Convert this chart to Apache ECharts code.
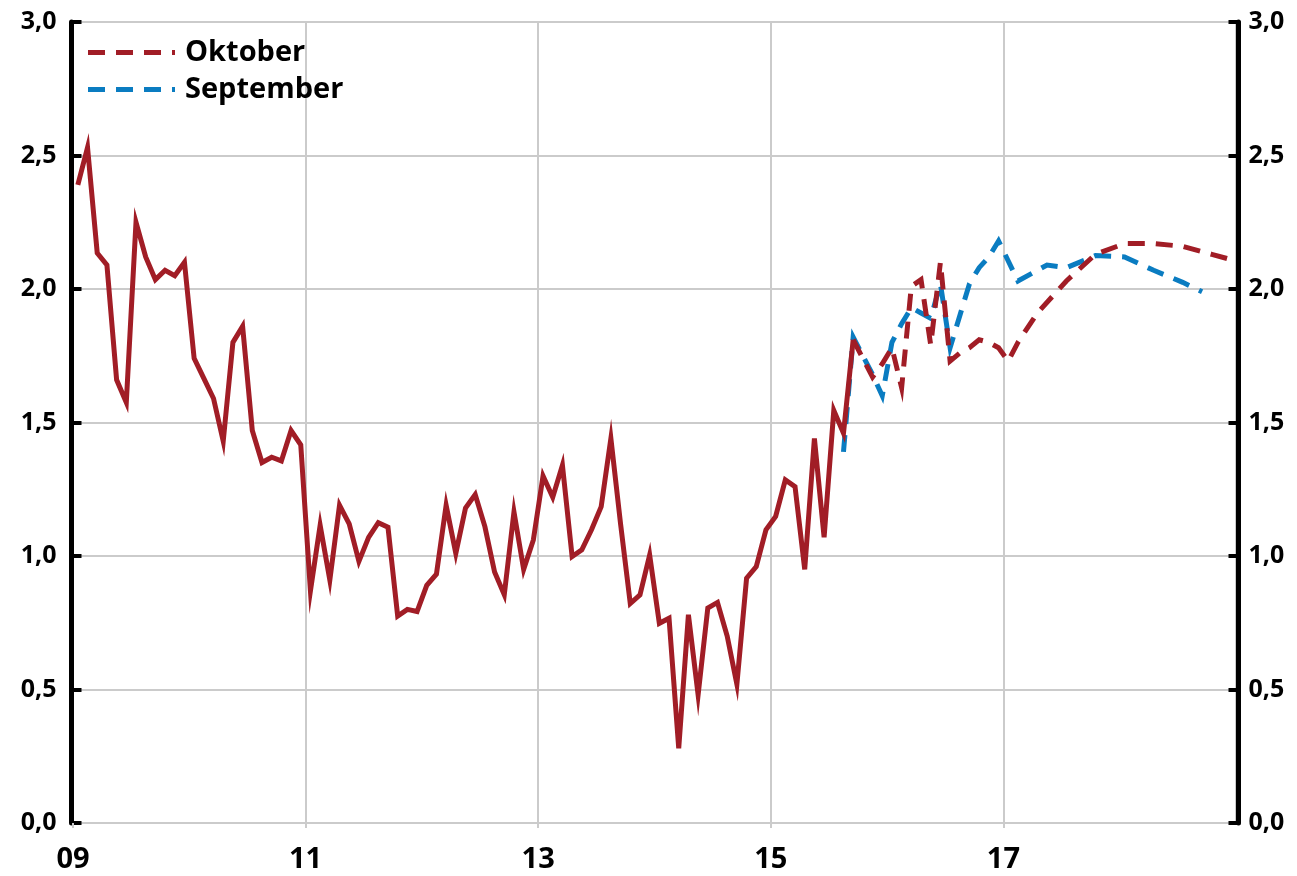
<!DOCTYPE html>
<html>
<head>
<meta charset="utf-8">
<script src="https://cdn.jsdelivr.net/npm/echarts@6/dist/echarts.min.js"></script>
<style>
  html, body { margin: 0; padding: 0; background: #fff; }
  #main { width: 1297px; height: 876px; }
</style>
</head>
<body>
<div id="main"></div>
<script>
var myChart = echarts.init(document.getElementById('main'));

// monthly history, from Jan 2009
var histValues = [
  2.39, 2.53, 2.135, 2.09, 1.66, 1.575, 2.25, 2.12, 2.035, 2.07,
  2.05, 2.10, 1.74, 1.665, 1.59, 1.43, 1.80, 1.86, 1.47, 1.35,
  1.37, 1.356, 1.47, 1.416, 0.87, 1.115, 0.91, 1.19, 1.12, 0.98,
  1.07, 1.125, 1.108, 0.775, 0.80, 0.792, 0.89, 0.932, 1.19, 1.01,
  1.18, 1.23, 1.11, 0.94, 0.855, 1.165, 0.95, 1.06, 1.30, 1.22,
  1.34, 0.998, 1.023, 1.098, 1.185, 1.44, 1.12, 0.822, 0.854, 1.004,
  0.748, 0.767, 0.28, 0.78, 0.48, 0.805, 0.826, 0.70, 0.52, 0.917,
  0.96, 1.098, 1.148, 1.285, 1.26, 0.95, 1.44, 1.07, 1.545, 1.46,
  1.81
];

// Oktober forecast
var octDates = ['2015-09', '2015-10', '2015-11', '2015-12', '2016-01', '2016-02', '2016-03', '2016-04',
  '2016-05', '2016-06', '2016-07', '2016-08', '2016-09', '2016-10', '2016-11', '2016-12',
  '2017-01', '2017-02', '2017-04', '2017-07', '2017-10', '2018-01', '2018-04', '2018-07',
  '2018-10', '2018-12'];
var octValues = [1.81, 1.74, 1.67, 1.72, 1.78, 1.63, 2.01, 2.035,
  1.79, 2.10, 1.73, 1.76, 1.78, 1.81, 1.80, 1.78,
  1.73, 1.80, 1.91, 2.03, 2.13, 2.17, 2.17, 2.16,
  2.13, 2.11];

// September forecast
var sepDates = ['2015-08', '2015-09', '2015-10', '2015-11', '2015-12', '2016-01', '2016-02', '2016-03',
  '2016-04', '2016-05', '2016-06', '2016-07', '2016-08', '2016-09', '2016-10', '2016-11',
  '2016-12', '2017-02', '2017-05', '2017-07', '2017-10', '2018-01', '2018-04', '2018-07',
  '2018-09'];
var sepValues = [1.39, 1.82, 1.75, 1.68, 1.60, 1.80, 1.87, 1.93,
  1.91, 1.89, 2.02, 1.78, 1.90, 2.02, 2.08, 2.12,
  2.18, 2.03, 2.09, 2.08, 2.125, 2.12, 2.07, 2.025,
  1.99];

var yTicks = [0, 0.5, 1, 1.5, 2, 2.5, 3];

var RED = '#a11d26';
var BLUE = '#0a7cc1';
var GRID = '#cbcbcb';
var FONT = 'Open Sans';
// dashed legend sample
var DASH_ICON = 'path://M0,0H17V5H0Z M28,0H45V5H28Z M56,0H73V5H56Z M84,0H87V5H84Z';

// month string -> decimal year (mid month)
function toYear(s) {
  var p = s.split('-');
  return +p[0] + (+p[1] - 0.5) / 12;
}

var histData = histValues.map(function (v, i) { return [2009 + (i + 0.5) / 12, v]; });
var octData = octDates.map(function (d, i) { return [toYear(d), octValues[i]]; });
var sepData = sepDates.map(function (d, i) { return [toYear(d), sepValues[i]]; });

function yAxisCfg(pos, offset, margin, split) {
  return {
    type: 'value',
    position: pos,
    min: yTicks[0],
    max: yTicks[yTicks.length - 1],
    interval: 0.5,
    offset: offset,
    axisLine: { show: true, lineStyle: { color: '#000', width: 5 } },
    axisTick: { show: true, inside: true, length: 10, lineStyle: { color: '#000', width: 4 } },
    axisLabel: {
      margin: margin,
      color: '#000',
      fontFamily: FONT,
      fontWeight: 'bold',
      fontSize: 25,
      formatter: function (v) { return v.toFixed(1).replace('.', ','); }
    },
    splitLine: { show: split, lineStyle: { color: GRID, width: 2 } }
  };
}

var option = {
  backgroundColor: '#fff',
  animation: false,
  grid: { left: 73, right: 61, top: 22, bottom: 53, containLabel: false },
  legend: {
    data: [
      { name: 'Oktober', icon: DASH_ICON },
      { name: 'September', icon: DASH_ICON }
    ],
    orient: 'vertical',
    left: 83,
    top: 33,
    itemWidth: 87,
    itemHeight: 5,
    itemGap: 8,
    textStyle: {
      fontFamily: FONT,
      fontWeight: 'bold',
      fontSize: 29,
      lineHeight: 29,
      color: '#000',
      padding: [0, 0, 0, 5]
    }
  },
  xAxis: {
    type: 'value',
    min: 2009,
    max: 2019,
    interval: 2,
    axisLine: { show: false },
    axisTick: { show: true, length: 5, lineStyle: { color: GRID, width: 2 } },
    axisLabel: {
      showMaxLabel: false,
      margin: 22,
      color: '#000',
      fontFamily: FONT,
      fontWeight: 'bold',
      fontSize: 29,
      formatter: function (v) { return String(v).slice(2); }
    },
    splitLine: { show: true, lineStyle: { color: GRID, width: 2 } }
  },
  yAxis: [
    yAxisCfg('left', 1.5, 15, true),
    yAxisCfg('right', 2.5, 10, false)
  ],
  series: [
    {
      name: 'September',
      type: 'line',
      data: sepData,
      symbol: 'none',
      lineStyle: { color: BLUE, width: 5, type: [17, 11], join: 'miter', miterLimit: 10 },
      itemStyle: { color: BLUE },
      z: 2
    },
    {
      name: 'Oktober',
      type: 'line',
      data: octData,
      symbol: 'none',
      lineStyle: { color: RED, width: 5, type: [17, 11], join: 'miter', miterLimit: 10 },
      itemStyle: { color: RED },
      z: 3
    },
    {
      name: 'Historikk',
      type: 'line',
      data: histData,
      symbol: 'none',
      lineStyle: { color: RED, width: 5, type: 'solid', join: 'miter', miterLimit: 10 },
      itemStyle: { color: RED },
      z: 4
    }
  ]
};

myChart.setOption(option);
</script>
</body>
</html>
